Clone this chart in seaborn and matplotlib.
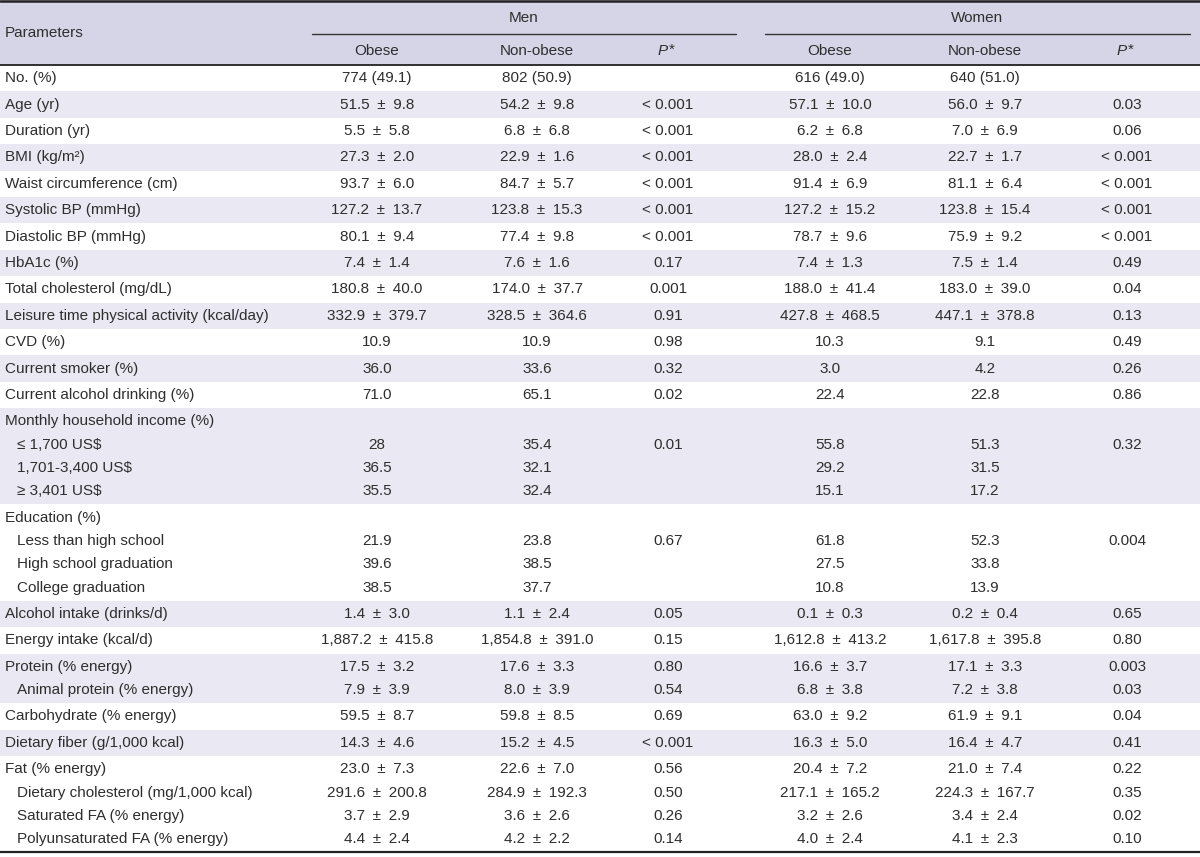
import matplotlib
matplotlib.use("Agg")
import matplotlib.pyplot as plt
import seaborn as sns
from matplotlib import font_manager

# ---- table content ----
params = [
    "No. (%)", "Age (yr)", "Duration (yr)", "BMI (kg/m\u00b2)", "Waist circumference (cm)",
    "Systolic BP (mmHg)", "Diastolic BP (mmHg)", "HbA1c (%)", "Total cholesterol (mg/dL)",
    "Leisure time physical activity (kcal/day)", "CVD (%)", "Current smoker (%)",
    "Current alcohol drinking (%)",
    "Monthly household income (%)", "\u2264 1,700 US$", "1,701-3,400 US$", "\u2265 3,401 US$",
    "Education (%)", "Less than high school", "High school graduation", "College graduation",
    "Alcohol intake (drinks/d)", "Energy intake (kcal/d)",
    "Protein (% energy)", "Animal protein (% energy)",
    "Carbohydrate (% energy)", "Dietary fiber (g/1,000 kcal)",
    "Fat (% energy)", "Dietary cholesterol (mg/1,000 kcal)", "Saturated FA (% energy)",
    "Polyunsaturated FA (% energy)",
]
indented = [0] * 14 + [1, 1, 1, 0, 1, 1, 1, 0, 0, 0, 1, 0, 0, 0, 1, 1, 1]
# band (shading group) that each line belongs to
band = [0, 1, 2, 3, 4, 5, 6, 7, 8, 9, 10, 11, 12, 13, 13, 13, 13, 14, 14, 14, 14,
        15, 16, 17, 17, 18, 19, 20, 20, 20, 20]

men_obese = ["774 (49.1)", "51.5 \u00b1 9.8", "5.5 \u00b1 5.8", "27.3 \u00b1 2.0", "93.7 \u00b1 6.0",
             "127.2 \u00b1 13.7", "80.1 \u00b1 9.4", "7.4 \u00b1 1.4", "180.8 \u00b1 40.0",
             "332.9 \u00b1 379.7", "10.9", "36.0", "71.0",
             "", "28", "36.5", "35.5", "", "21.9", "39.6", "38.5",
             "1.4 \u00b1 3.0", "1,887.2 \u00b1 415.8", "17.5 \u00b1 3.2", "7.9 \u00b1 3.9",
             "59.5 \u00b1 8.7", "14.3 \u00b1 4.6", "23.0 \u00b1 7.3", "291.6 \u00b1 200.8",
             "3.7 \u00b1 2.9", "4.4 \u00b1 2.4"]
men_nonobese = ["802 (50.9)", "54.2 \u00b1 9.8", "6.8 \u00b1 6.8", "22.9 \u00b1 1.6", "84.7 \u00b1 5.7",
                "123.8 \u00b1 15.3", "77.4 \u00b1 9.8", "7.6 \u00b1 1.6", "174.0 \u00b1 37.7",
                "328.5 \u00b1 364.6", "10.9", "33.6", "65.1",
                "", "35.4", "32.1", "32.4", "", "23.8", "38.5", "37.7",
                "1.1 \u00b1 2.4", "1,854.8 \u00b1 391.0", "17.6 \u00b1 3.3", "8.0 \u00b1 3.9",
                "59.8 \u00b1 8.5", "15.2 \u00b1 4.5", "22.6 \u00b1 7.0", "284.9 \u00b1 192.3",
                "3.6 \u00b1 2.6", "4.2 \u00b1 2.2"]
men_p = ["", "< 0.001", "< 0.001", "< 0.001", "< 0.001", "< 0.001", "< 0.001", "0.17", "0.001",
         "0.91", "0.98", "0.32", "0.02", "", "0.01", "", "", "", "0.67", "", "",
         "0.05", "0.15", "0.80", "0.54", "0.69", "< 0.001", "0.56", "0.50", "0.26", "0.14"]
women_obese = ["616 (49.0)", "57.1 \u00b1 10.0", "6.2 \u00b1 6.8", "28.0 \u00b1 2.4", "91.4 \u00b1 6.9",
               "127.2 \u00b1 15.2", "78.7 \u00b1 9.6", "7.4 \u00b1 1.3", "188.0 \u00b1 41.4",
               "427.8 \u00b1 468.5", "10.3", "3.0", "22.4",
               "", "55.8", "29.2", "15.1", "", "61.8", "27.5", "10.8",
               "0.1 \u00b1 0.3", "1,612.8 \u00b1 413.2", "16.6 \u00b1 3.7", "6.8 \u00b1 3.8",
               "63.0 \u00b1 9.2", "16.3 \u00b1 5.0", "20.4 \u00b1 7.2", "217.1 \u00b1 165.2",
               "3.2 \u00b1 2.6", "4.0 \u00b1 2.4"]
women_nonobese = ["640 (51.0)", "56.0 \u00b1 9.7", "7.0 \u00b1 6.9", "22.7 \u00b1 1.7", "81.1 \u00b1 6.4",
                  "123.8 \u00b1 15.4", "75.9 \u00b1 9.2", "7.5 \u00b1 1.4", "183.0 \u00b1 39.0",
                  "447.1 \u00b1 378.8", "9.1", "4.2", "22.8",
                  "", "51.3", "31.5", "17.2", "", "52.3", "33.8", "13.9",
                  "0.2 \u00b1 0.4", "1,617.8 \u00b1 395.8", "17.1 \u00b1 3.3", "7.2 \u00b1 3.8",
                  "61.9 \u00b1 9.1", "16.4 \u00b1 4.7", "21.0 \u00b1 7.4", "224.3 \u00b1 167.7",
                  "3.4 \u00b1 2.4", "4.1 \u00b1 2.3"]
women_p = ["", "0.03", "0.06", "< 0.001", "< 0.001", "< 0.001", "< 0.001", "0.49", "0.04",
           "0.13", "0.49", "0.26", "0.86", "", "0.32", "", "", "", "0.004", "", "",
           "0.65", "0.80", "0.003", "0.03", "0.04", "0.41", "0.22", "0.35", "0.02", "0.10"]

groups = ["Men", "Women"]
subheads = ["Obese", "Non-obese", "P*"]

# ---- style ----
sns.set_theme(style="white")
names = {f.name for f in font_manager.fontManager.ttflist}
base_font = "Liberation Sans Narrow" if "Liberation Sans Narrow" in names else "Liberation Sans"
plt.rcParams["font.family"] = [base_font, "DejaVu Sans"]
FS = 11
TXT = "#2e2e2e"
HEAD_BG = "#d6d5e8"
BAND_BG = "#eae9f3"

col_x = [377, 537, 668, 830, 985, 1127]
group_x = [524, 977]
group_span = [(312, 736), (765, 1190)]

HEADER_BOTTOM = 65
ROW_H = 26.4
LINE_H = 23.3


def fmt(s):
    # the source typesets "±" with wider spacing
    return s.replace(" \u00b1 ", "\u2002\u00b1\u2002")


fig = plt.figure(figsize=(12, 8.57), dpi=100)
ax = fig.add_axes([0, 0, 1, 1])
ax.set_xlim(0, 1200)
ax.set_ylim(857, 0)
ax.axis("off")

# header background
ax.axhspan(0, HEADER_BOTTOM, color=HEAD_BG, lw=0)

# y position of every line, plus band extents
y_line = []
band_top = {}
y = HEADER_BOTTOM
prev = None
first_line_y = None
for i, b in enumerate(band):
    if b != prev:
        if prev is not None:
            band_top[prev] = (band_top[prev], y)
        n = band.count(b)
        band_top[b] = y
        first_line_y = y + 13.2
        k = 0
        y = y + ROW_H + (n - 1) * LINE_H
        prev = b
    y_line.append(first_line_y + k * LINE_H)
    k += 1
band_top[prev] = (band_top[prev], y)
table_bottom = y

for b, (t0, t1) in band_top.items():
    if b % 2 == 1:
        ax.axhspan(t0, t1, color=BAND_BG, lw=0)

# header text
ax.text(5, 33, "Parameters", fontsize=FS, color=TXT, va="center", ha="left")
for g, gx, (x0, x1) in zip(groups, group_x, group_span):
    ax.text(gx, 18, g, fontsize=FS, color=TXT, va="center", ha="center")
    ax.plot([x0, x1], [34, 34], color="#333333", lw=1.0)
for j, cx in enumerate(col_x):
    s = subheads[j % 3]
    if s == "P*":
        ax.text(cx, 51, "P", fontsize=FS, color=TXT, va="center", ha="right", style="italic")
        ax.text(cx + 1, 50, "*", fontsize=FS, color=TXT, va="center", ha="left")
    else:
        ax.text(cx, 51, s, fontsize=FS, color=TXT, va="center", ha="center")

# rules
ax.plot([0, 1200], [1.2, 1.2], color="#222222", lw=1.8)
ax.plot([0, 1200], [HEADER_BOTTOM, HEADER_BOTTOM], color="#222222", lw=1.3)
ax.plot([0, 1200], [table_bottom, table_bottom], color="#222222", lw=1.6)

# body
columns = [men_obese, men_nonobese, men_p, women_obese, women_nonobese, women_p]
for i, name in enumerate(params):
    yy = y_line[i]
    ax.text(17 if indented[i] else 5, yy, name, fontsize=FS, color=TXT, va="center", ha="left")
    for cx, col in zip(col_x, columns):
        if col[i]:
            ax.text(cx, yy, fmt(col[i]), fontsize=FS, color=TXT, va="center", ha="center")

fig.savefig("out.png", dpi=100, facecolor="white")
